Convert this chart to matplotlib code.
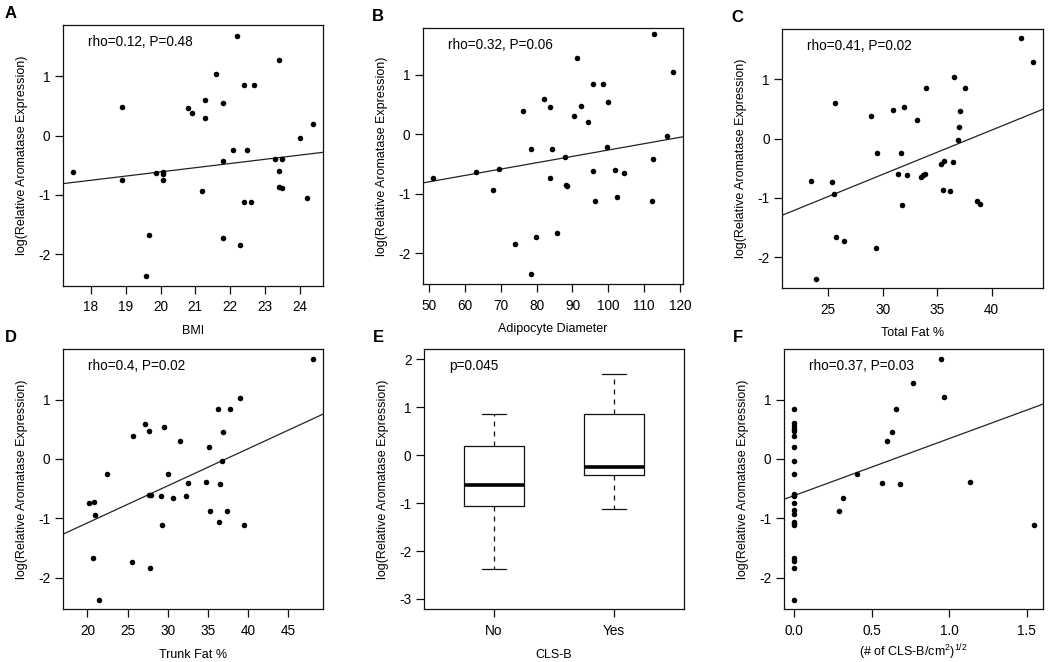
import matplotlib
matplotlib.use('Agg')
import matplotlib.pyplot as plt

plt.rcParams['font.family'] = ['Liberation Sans', 'DejaVu Sans']
plt.rcParams['mathtext.default'] = 'regular'
plt.rcParams['axes.unicode_minus'] = False

# Panel A: BMI
bmi = [17.48, 18.88, 18.88, 19.57, 19.68, 19.88, 20.08, 20.08, 20.08, 20.78, 20.89, 21.18,
       21.29, 21.29, 21.59, 21.79, 21.79, 21.79, 22.08, 22.19, 22.29, 22.39, 22.39, 22.49,
       22.59, 22.69, 23.29, 23.40, 23.40, 23.40, 23.49, 23.49, 24.00, 24.20, 24.39]
bmi_expr = [-0.62, -0.74, 0.48, -2.37, -1.68, -0.63, -0.61, -0.65, -0.74, 0.46, 0.39, -0.94,
            0.60, 0.30, 1.04, 0.55, -0.42, -1.73, -0.25, 1.69, -1.85, 0.85, -1.12, -0.25,
            -1.12, 0.85, -0.40, 1.28, -0.60, -0.87, -0.88, -0.39, -0.04, -1.06, 0.20]

# Panel B: adipocyte diameter
diameter = [51.0, 63.1, 67.9, 69.4, 73.9, 76.1, 78.4, 78.4, 79.9, 82.1, 83.6, 83.7,
            84.4, 85.7, 87.9, 88.1, 88.5, 90.5, 91.3, 92.4, 94.3, 95.6, 95.8, 96.2,
            98.4, 99.7, 99.8, 101.9, 102.5, 104.4, 112.6, 112.4, 112.1, 116.3, 118.1]
diameter_expr = [-0.74, -0.63, -0.94, -0.59, -1.84, 0.39, -0.25, -2.36, -1.73, 0.59, 0.45, -0.73,
                 -0.25, -1.67, -0.39, -0.86, -0.88, 0.30, 1.28, 0.48, 0.20, -0.62, 0.85, -1.12,
                 0.85, -0.22, 0.54, -0.61, -1.06, -0.65, 1.69, -0.42, -1.12, -0.03, 1.04]

# Panel C: total fat %
total_fat = [23.41, 23.90, 25.37, 25.49, 25.58, 25.67, 26.41, 28.89, 29.41, 29.50, 30.97, 31.37,
             31.67, 31.76, 31.98, 32.19, 33.17, 33.54, 33.66, 33.88, 33.97, 35.35, 35.62, 35.50,
             36.20, 36.48, 36.57, 36.88, 36.97, 37.09, 37.58, 38.68, 38.90, 42.69, 43.76]
total_fat_expr = [-0.72, -2.36, -0.73, -0.94, 0.60, -1.66, -1.72, 0.39, -1.84, -0.24, 0.48, -0.59,
                  -0.24, -1.11, 0.54, -0.62, 0.31, -0.64, -0.61, -0.60, 0.86, -0.42, -0.38, -0.86,
                  -0.88, -0.39, 1.04, -0.03, 0.20, 0.46, 0.85, -1.05, -1.10, 1.69, 1.29]

# Panel D: trunk fat %
trunk_fat = [20.25, 20.87, 20.91, 20.70, 21.49, 22.40, 25.51, 25.64, 27.21, 27.71, 27.71, 27.96,
             27.84, 29.12, 29.33, 29.58, 30.03, 30.61, 31.53, 32.23, 32.52, 34.72, 35.13, 35.22,
             36.21, 36.33, 36.50, 36.71, 36.92, 37.33, 37.70, 38.99, 39.44, 48.11]
trunk_fat_expr = [-0.74, -0.73, -0.94, -1.67, -2.37, -0.25, -1.74, 0.39, 0.59, 0.48, -0.61, -0.60,
                  -1.84, -0.63, -1.12, 0.54, -0.25, -0.65, 0.30, -0.62, -0.40, -0.39, 0.20, -0.87,
                  0.85, -1.06, -0.42, -0.04, 0.46, -0.88, 0.85, 1.03, -1.12, 1.69]

# Panel F: sqrt CLS-B density
cls_density = [0.0] * 22 + [0.292, 0.316, 0.408, 0.565, 0.600, 0.632, 0.655, 0.686,
                            0.769, 0.950, 0.967, 1.137, 1.550]
cls_density_expr = [0.85, 0.60, 0.55, 0.51, 0.48, 0.39, 0.20, -0.04, -0.25, -0.59, -0.61,
                    -0.63, -0.74, -0.86, -0.93, -1.06, -1.08, -1.12, -1.67, -1.72, -1.84, -2.37,
                    -0.88, -0.65, -0.25, -0.40, 0.30, 0.46, 0.85, -0.42, 1.28, 1.69, 1.04,
                    -0.38, -1.12]

# Panel E: box plot summary by CLS-B presence
cls_groups = ['No', 'Yes']
box_low = [-2.37, -1.12]
box_q1 = [-1.056, -0.417]
box_median = [-0.618, -0.243]
box_q3 = [0.194, 0.854]
box_high = [0.854, 1.694]

# fitted lines (intercept, slope)
fit_lines = {
    'A': (-2.025, 0.0707),
    'B': (-1.336, 0.01069),
    'C': (-2.841, 0.07464),
    'D': (-2.329, 0.06256),
    'F': (-0.618, 0.961),
}

ylab = 'log(Relative Aromatase Expression)'
FS_TICK = 9.8
FS_LAB = 9

scatter_panels = [
    # letter, x, y, xlabel, xticks, xticklabels, xlim, ylim, note, axes box (px)
    ('A', bmi, bmi_expr, 'BMI', [18, 19, 20, 21, 22, 23, 24], None,
     (17.185, 24.68), (-2.532, 1.868), 'rho=0.12, P=0.48', (62.7, 25, 323.3, 285.7)),
    ('B', diameter, diameter_expr, 'Adipocyte Diameter', [50, 60, 70, 80, 90, 100, 110, 120], None,
     (48.23, 120.74), (-2.52, 1.78), 'rho=0.32, P=0.06', (422.7, 28.3, 682.7, 284)),
    ('C', total_fat, total_fat_expr, 'Total Fat %', [25, 30, 35, 40], None,
     (20.78, 44.68), (-2.517, 1.848), 'rho=0.41, P=0.02', (782.3, 29, 1042.7, 288)),
    ('D', trunk_fat, trunk_fat_expr, 'Trunk Fat %', [20, 25, 30, 35, 40, 45], None,
     (16.93, 49.35), (-2.534, 1.854), 'rho=0.4, P=0.02', (62.7, 349, 323.3, 609.3)),
    ('F', cls_density, cls_density_expr, r'(# of CLS-B/cm$^{2}$)$^{1/2}$', [0.0, 0.5, 1.0, 1.5],
     ['0.0', '0.5', '1.0', '1.5'],
     (-0.0645, 1.6076), (-2.534, 1.854), 'rho=0.37, P=0.03', (784, 349, 1043.3, 609.3)),
]

W, H = 1050, 662
fig = plt.figure(figsize=(W / 100, H / 100), dpi=100)


def make_axes(box):
    x0, y0, x1, y1 = box
    return fig.add_axes([x0 / W, 1 - y1 / H, (x1 - x0) / W, (y1 - y0) / H])


def style_axes(ax, letter, box):
    for sp in ax.spines.values():
        sp.set_linewidth(0.9)
        sp.set_color('#111111')
    ax.tick_params(direction='out', length=5.5, width=0.9, labelsize=FS_TICK, color='#111111')
    ax.tick_params(axis='x', pad=5)
    ax.tick_params(axis='y', pad=3.5)
    ax.set_ylabel(ylab, fontsize=FS_LAB, va='center')
    ax.yaxis.set_label_coords(-0.157, 0.5)
    x0, y0 = box[0], box[1]
    lx = {62.7: 5}.get(x0, x0 - 51)
    fig.text(lx / W, 1 - (y0 - 12) / H, letter, fontsize=12, fontweight='bold',
             ha='left', va='center')


for letter, xs, ys, xlabel, xticks, xtl, xlim, ylim, note, box in scatter_panels:
    ax = make_axes(box)
    ax.scatter(xs, ys, s=16, color='black', linewidths=0, zorder=3)
    b0, b1 = fit_lines[letter]
    ax.axline((0, b0), slope=b1, color='#222222', lw=0.9)
    ax.set_xlim(*xlim)
    ax.set_ylim(*ylim)
    ax.set_xticks(xticks)
    if xtl is not None:
        ax.set_xticklabels(xtl)
    ax.set_yticks([-2, -1, 0, 1])
    ax.set_xlabel(xlabel, fontsize=FS_LAB, va='center')
    ax.text(0.096, 0.935, note, transform=ax.transAxes, fontsize=FS_TICK, ha='left', va='center')
    style_axes(ax, letter, box)
    ax.xaxis.set_label_coords(0.5, -0.165 if letter == 'F' else -0.175)

# Panel E
box_e = (424, 349, 684, 609.3)
ax = make_axes(box_e)
stats = []
for i, name in enumerate(cls_groups):
    stats.append({'label': name, 'whislo': box_low[i], 'q1': box_q1[i], 'med': box_median[i],
                  'q3': box_q3[i], 'whishi': box_high[i], 'fliers': []})
ax.bxp(stats, positions=[1, 2], widths=0.5, showfliers=False, capwidths=0.2,
       boxprops=dict(color='#111111', lw=0.9),
       whiskerprops=dict(color='#111111', lw=0.9, linestyle=(0, (4, 4))),
       capprops=dict(color='#111111', lw=0.9),
       medianprops=dict(color='black', lw=2.6, solid_capstyle='butt'))
ax.set_xlim(0.417, 2.583)
ax.set_ylim(-3.215, 2.21)
ax.set_yticks([-3, -2, -1, 0, 1, 2])
ax.set_xticks([1, 2])
ax.set_xticklabels(cls_groups)
ax.set_xlabel('CLS-B', fontsize=FS_LAB, va='center')
ax.text(0.096, 0.935, 'p=0.045', transform=ax.transAxes, fontsize=FS_TICK, ha='left', va='center')
style_axes(ax, 'E', box_e)
ax.xaxis.set_label_coords(0.5, -0.175)

fig.savefig('out.png', dpi=100)
